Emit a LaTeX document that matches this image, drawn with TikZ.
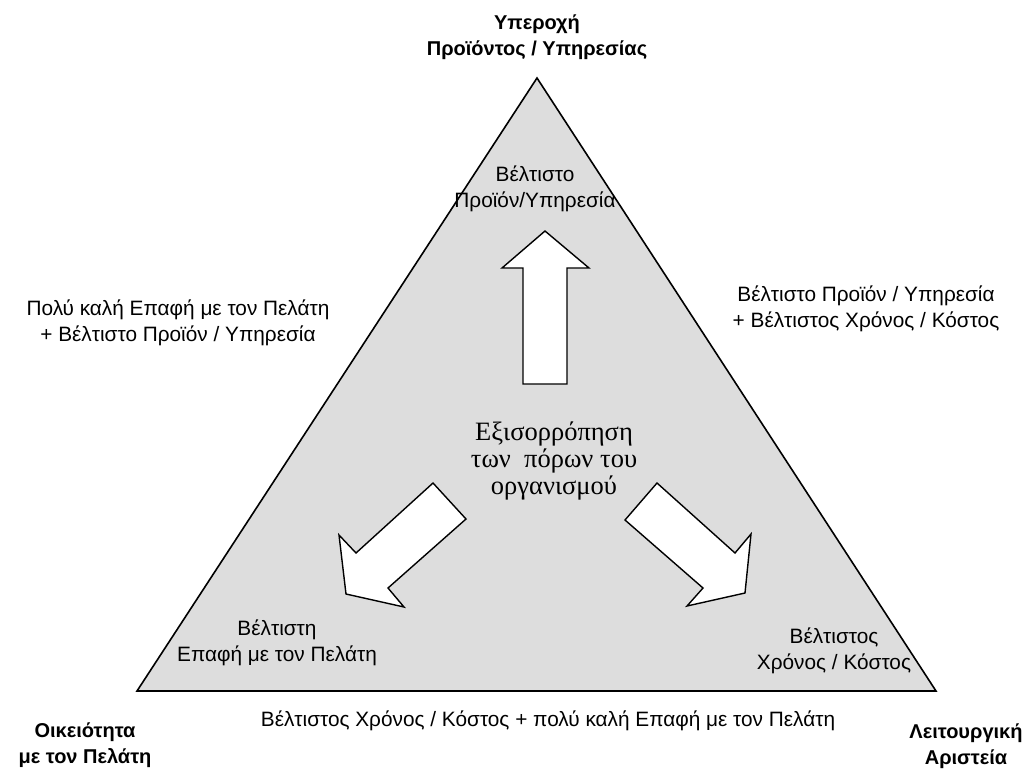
\documentclass[tikz,border=0pt]{standalone}
\usepackage{fontspec}
\setmainfont{Liberation Sans}
\newfontfamily\serifgr{Liberation Serif}
\definecolor{trifill}{RGB}{221,221,221}
\begin{document}
\begin{tikzpicture}[x=1pt,y=-1pt,
  lbl/.style={font=\fontsize{20.8}{26}\selectfont, align=center, inner sep=0pt},
  corner/.style={font=\bfseries\fontsize{20}{26}\selectfont, align=center, inner sep=0pt},
  arrowshape/.style={draw=black, fill=white, line width=1.4pt, line join=miter},
  center/.style={font=\serifgr\fontsize{26.5}{27}\selectfont, align=center, inner sep=0pt}]
\useasboundingbox (0,0) rectangle (1030,769);
% triangle
\coordinate (apex) at (537,78);
\coordinate (bl) at (137,691);
\coordinate (br) at (936,691);
\draw[fill=trifill, line width=1.6pt, line join=miter] (apex) -- (br) -- (bl) -- cycle;
% block arrows
\draw[arrowshape] (545,231) -- (589,268) -- (567,268) -- (567,384) -- (523,384) -- (523,268) -- (502,268) -- cycle;
\draw[arrowshape] (433,483) -- (466,519) -- (388,588) -- (404,607) -- (346,594) -- (339,535) -- (356,553) -- cycle;
\draw[arrowshape] (657,483) -- (625,520) -- (703,588) -- (687,606) -- (745,593) -- (751,534) -- (735,553) -- cycle;
% corner titles
\node[corner] (top) at (537,37) {Υπεροχή\\Προϊόντος / Υπηρεσίας};
\node[corner] (left) at (85,745) {Οικειότητα\\με τον Πελάτη};
\node[corner] (right) at (966,746) {Λειτουργική\\Αριστεία};
% inner labels
\node[lbl] (inTop) at (535,189) {Βέλτιστο\\Προϊόν/Υπηρεσία};
\node[lbl] (inLeft) at (277,643) {Βέλτιστη\\Επαφή με τον Πελάτη};
\node[lbl] (inRight) at (834,651) {Βέλτιστος\\Χρόνος / Κόστος};
\node[center] (mid) at (554,461) {Εξισορρόπηση\\των\ \ πόρων του\\οργανισμού};
% edge labels
\node[lbl] (edgeL) at (178,323) {Πολύ καλή Επαφή με τον Πελάτη\\+ Βέλτιστο Προϊόν / Υπηρεσία};
\node[lbl] (edgeR) at (866,309) {Βέλτιστο Προϊόν / Υπηρεσία\\+ Βέλτιστος Χρόνος / Κόστος};
\node[lbl] (edgeB) at (548,721) {Βέλτιστος Χρόνος / Κόστος + πολύ καλή Επαφή με τον Πελάτη};
\end{tikzpicture}
\end{document}
